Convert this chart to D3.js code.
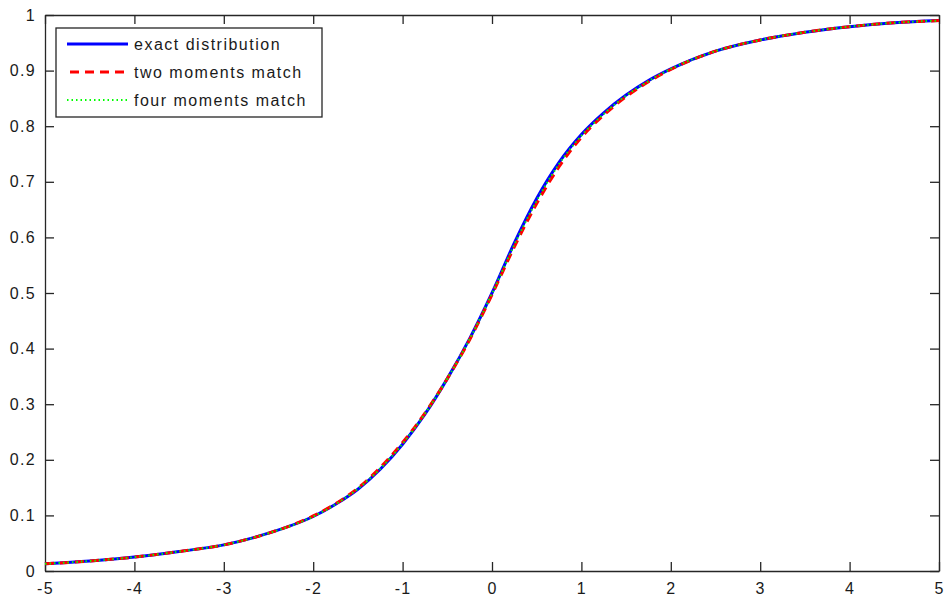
<!DOCTYPE html>
<html>
<head>
<meta charset="utf-8">
<script src="https://cdn.jsdelivr.net/npm/d3@7"></script>
<style>
  body { margin: 0; background: #fff; }
  text { font-family: "Liberation Sans", Arial, sans-serif; fill: #1a1a1a; }
</style>
</head>
<body>
<svg id="chart" width="947" height="600"></svg>
<script>
// values
const xs = [-5, -4.5, -4, -3.5, -3, -2.5, -2, -1.75, -1.5, -1.25, -1, -0.75, -0.5, -0.25, 0,
            0.25, 0.5, 0.75, 1, 1.25, 1.5, 1.75, 2, 2.5, 3, 3.5, 4, 4.5, 5];
const exactCdf = [0.013, 0.018, 0.025, 0.035, 0.047, 0.068, 0.098, 0.120, 0.147, 0.183, 0.228, 0.282, 0.346, 0.418, 0.500,
                  0.590, 0.670, 0.735, 0.785, 0.824, 0.856, 0.882, 0.903, 0.935, 0.955, 0.969, 0.979, 0.986, 0.990];
const twoMoments = [0.013, 0.018, 0.025, 0.035, 0.047, 0.068, 0.099, 0.121, 0.149, 0.186, 0.231, 0.284, 0.346, 0.416, 0.497,
                    0.583, 0.661, 0.727, 0.780, 0.820, 0.853, 0.880, 0.902, 0.935, 0.955, 0.969, 0.979, 0.986, 0.990];
const fourMoments = [0.013, 0.018, 0.025, 0.035, 0.047, 0.068, 0.098, 0.120, 0.148, 0.184, 0.229, 0.283, 0.346, 0.417, 0.499,
                     0.587, 0.666, 0.732, 0.783, 0.822, 0.855, 0.881, 0.903, 0.935, 0.955, 0.969, 0.979, 0.986, 0.990];
const xTicks = [-5, -4, -3, -2, -1, 0, 1, 2, 3, 4, 5];
const yTicks = [0, 0.1, 0.2, 0.3, 0.4, 0.5, 0.6, 0.7, 0.8, 0.9, 1];
const seriesNames = ["exact distribution", "two moments match", "four moments match"];

const margin = { top: 15, right: 8, bottom: 29, left: 45 };
const width = 947 - margin.left - margin.right;
const height = 600 - margin.top - margin.bottom;

const svg = d3.select("#chart")
    .append("g")
    .attr("transform", `translate(${margin.left},${margin.top})`);

const x = d3.scaleLinear().domain([-5, 5]).range([0, width]);
const y = d3.scaleLinear().domain([0, 1]).range([height, 0]);

const axisColor = "#262626";
const tickLen = 9;

// box axes, ticks pointing inward like matlab, plain hyphen for minus
const xAxis = d3.axisBottom(x).tickValues(xTicks).tickSizeInner(-tickLen).tickSizeOuter(0).tickPadding(12).tickFormat(d => String(d));
const yAxis = d3.axisLeft(y).tickValues(yTicks).tickSizeInner(-tickLen).tickSizeOuter(0).tickPadding(9).tickFormat(d => d === 0 || d === 1 ? d : d.toFixed(1));

svg.append("g").attr("transform", `translate(0,${height})`).call(xAxis);
svg.append("g").call(yAxis);
svg.append("g").call(d3.axisTop(x).tickValues(xTicks).tickSizeInner(-tickLen).tickSizeOuter(0).tickFormat(""));
svg.append("g").attr("transform", `translate(${width},0)`).call(d3.axisRight(y).tickValues(yTicks).tickSizeInner(-tickLen).tickSizeOuter(0).tickFormat(""));

svg.selectAll(".domain, .tick line").attr("stroke", axisColor).attr("stroke-width", 1.3);
svg.selectAll(".tick text").attr("font-size", "16px").attr("letter-spacing", "1.3px").attr("fill", "#1a1a1a");

// series
const styles = [
    { data: exactCdf, color: "#0000ff", width: 3, dash: null },
    { data: twoMoments, color: "#ff0000", width: 3, dash: "9,6" },
    { data: fourMoments, color: "#00ff00", width: 2, dash: "1.5,3" }
];

const line = d3.line()
    .x(d => x(d[0]))
    .y(d => y(d[1]))
    .curve(d3.curveMonotoneX);

styles.forEach(s => {
    svg.append("path")
        .datum(xs.map((v, i) => [v, s.data[i]]))
        .attr("fill", "none")
        .attr("stroke", s.color)
        .attr("stroke-width", s.width)
        .attr("stroke-dasharray", s.dash)
        .attr("d", line);
});

// legend
const legend = svg.append("g").attr("transform", "translate(11,13)");
legend.append("rect")
    .attr("width", 266).attr("height", 89)
    .attr("fill", "#fff").attr("stroke", axisColor).attr("stroke-width", 1.3);

seriesNames.forEach((name, i) => {
    const ly = 16 + i * 28;
    legend.append("line")
        .attr("x1", 11).attr("x2", 72).attr("y1", ly).attr("y2", ly)
        .attr("stroke", styles[i].color)
        .attr("stroke-width", styles[i].width)
        .attr("stroke-dasharray", i === 1 ? "9,6" : styles[i].dash)
        .attr("stroke-dashoffset", i === 1 ? -3 : 0);
    legend.append("text")
        .attr("x", 78).attr("y", ly).attr("dy", "0.35em")
        .attr("font-size", "16px").attr("letter-spacing", "1.5px")
        .text(name);
});
</script>
</body>
</html>
